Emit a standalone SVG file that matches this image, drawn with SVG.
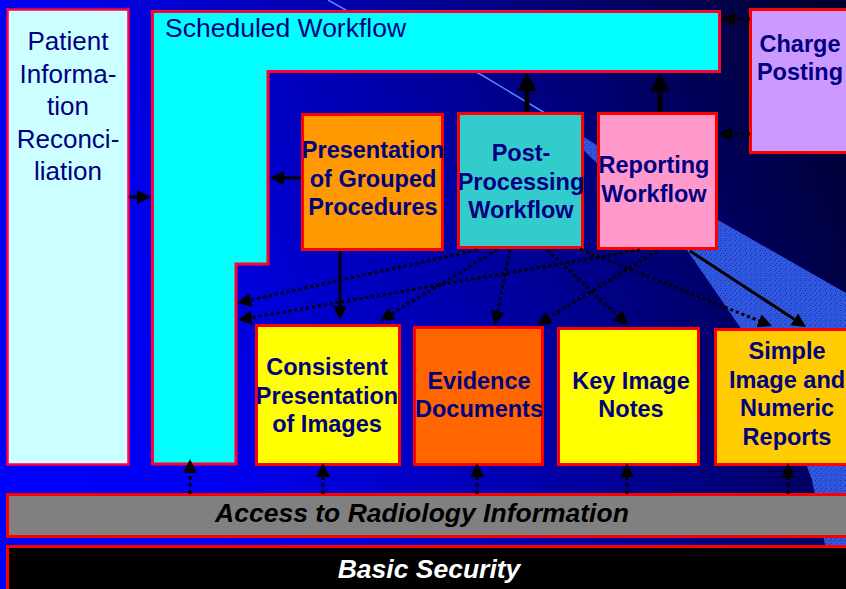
<svg xmlns="http://www.w3.org/2000/svg" width="846" height="589" viewBox="0 0 846 589">
<defs>
<linearGradient id="bg" gradientUnits="userSpaceOnUse" x1="0" y1="420" x2="846" y2="80">
<stop offset="0" stop-color="#0000FF"/>
<stop offset="0.2" stop-color="#0000F0"/>
<stop offset="0.5" stop-color="#0000B0"/>
<stop offset="0.75" stop-color="#000070"/>
<stop offset="1" stop-color="#000030"/>
</linearGradient>
<pattern id="tex" width="5" height="5" patternUnits="userSpaceOnUse">
<rect x="0" y="0" width="1" height="1" fill="#1530A0"/>
<rect x="3" y="1" width="1" height="1" fill="#1E40C0"/>
<rect x="1" y="3" width="1" height="1" fill="#1530A0"/>
<rect x="4" y="4" width="1" height="1" fill="#2448D0"/>
</pattern>
<marker id="hb" viewBox="0 -11 19 22" refX="0" refY="0" markerWidth="19" markerHeight="22" markerUnits="userSpaceOnUse" orient="auto"><path d="M0,-10 L18,0 L0,10 z" fill="#000"/></marker>
<marker id="hs" viewBox="0 -8 15 16" refX="0" refY="0" markerWidth="15" markerHeight="16" markerUnits="userSpaceOnUse" orient="auto"><path d="M0,-7 L14,0 L0,7 z" fill="#000"/></marker>
</defs>
<style>
.box{stroke:#FF0000;stroke-width:3}
.pk{stroke:#FF0050;stroke-width:2.5}
.t{font-family:"Liberation Sans",Arial,sans-serif;font-weight:bold;font-size:23.5px;fill:#000080;text-anchor:middle}
.r{font-family:"Liberation Sans",Arial,sans-serif;font-size:26px;fill:#000080}
.bi{font-family:"Liberation Sans",Arial,sans-serif;font-weight:bold;font-style:italic;font-size:26.5px;text-anchor:middle}
.sol{fill:none;stroke:#000;stroke-width:3}
.thk{fill:none;stroke:#000;stroke-width:5}
.dot{fill:none;stroke:#000;stroke-width:3;stroke-dasharray:3 3}
.vd{fill:none;stroke:#000;stroke-width:3;stroke-dasharray:4 3}
</style>
<rect width="846" height="589" fill="url(#bg)"/>
<path d="M328,0 L360,18 L480,74 L545,113" fill="none" stroke="#5585FF" stroke-width="1.5"/>
<g id="wedge">
<polygon points="540,110 718,220 846,293 846,589 830,589 825,545 812,480 790,420 740,327 687,250 548,116" fill="#3058E0"/>
<polygon points="540,110 718,220 846,293 846,589 830,589 825,545 812,480 790,420 740,327 687,250 548,116" fill="url(#tex)"/>
</g>

<g id="patient">
<rect class="pk" x="7.5" y="9.5" width="121" height="455" fill="#CCFFFF"/>
<text class="r" text-anchor="middle" x="68"><tspan x="68" y="50">Patient</tspan><tspan x="68" y="83">Informa-</tspan><tspan x="68" y="115">tion</tspan><tspan x="68" y="148">Reconci-</tspan><tspan x="68" y="180">liation</tspan></text>
</g>
<g id="scheduled">
<polygon points="152.5,11.5 719.5,11.5 719.5,71.5 268,71.5 268,264 236,264 236,464 152.5,464" fill="#00FFFF" stroke="#FF0033" stroke-width="3"/>
<text class="r" x="165" y="37" style="font-size:26.5px">Scheduled Workflow</text>
</g>
<g id="charge">
<rect class="box" x="750.5" y="9.5" width="110" height="143" fill="#CC99FF"/>
<text class="t"><tspan x="800" y="52">Charge</tspan><tspan x="800" y="80">Posting</tspan></text>
</g>
<g id="presentation">
<rect class="box" x="302.5" y="114.5" width="140" height="135" fill="#FF9900"/>
<text class="t"><tspan x="373" y="158">Presentation</tspan><tspan x="373" y="187">of Grouped</tspan><tspan x="373" y="215">Procedures</tspan></text>
</g>
<g id="postprocessing">
<rect class="box" x="458.5" y="113.5" width="124" height="134" fill="#33CCCC"/>
<text class="t"><tspan x="521" y="161">Post-</tspan><tspan x="521" y="189.5">Processing</tspan><tspan x="521" y="218">Workflow</tspan></text>
</g>
<g id="reporting">
<rect class="box" x="598.5" y="113.5" width="118" height="135" fill="#FF99CC"/>
<text class="t"><tspan x="654" y="173">Reporting</tspan><tspan x="654" y="202">Workflow</tspan></text>
</g>
<g id="consistent">
<rect class="box" x="256.5" y="325.5" width="143" height="139" fill="#FFFF00"/>
<text class="t"><tspan x="327" y="375">Consistent</tspan><tspan x="327" y="403.5">Presentation</tspan><tspan x="327" y="432">of Images</tspan></text>
</g>
<g id="evidence">
<rect class="box" x="414.5" y="327.5" width="128" height="137" fill="#FF6600"/>
<text class="t"><tspan x="479" y="388.5">Evidence</tspan><tspan x="479" y="417">Documents</tspan></text>
</g>
<g id="keyimage">
<rect class="box" x="558.5" y="328.5" width="140" height="136" fill="#FFFF00"/>
<text class="t"><tspan x="631" y="388.5">Key Image</tspan><tspan x="631" y="417">Notes</tspan></text>
</g>
<g id="simple">
<rect class="box" x="715.5" y="329.5" width="140" height="135" fill="#FFCC00"/>
<text class="t"><tspan x="787" y="359">Simple</tspan><tspan x="787" y="387.5">Image and</tspan><tspan x="787" y="416">Numeric</tspan><tspan x="787" y="444.5">Reports</tspan></text>
</g>
<g id="access">
<rect class="box" x="7.5" y="494.5" width="845" height="42" fill="#808080"/>
<text class="bi" x="422" y="522" fill="#000000">Access to Radiology Information</text>
</g>
<g id="security">
<rect class="box" x="7.5" y="546.5" width="845" height="50" fill="#000000"/>
<text class="bi" x="429" y="578" fill="#FFFFFF">Basic Security</text>
</g>

<g id="connectors">
<path class="sol" d="M129,197 L137,197" marker-end="url(#hs)"/>
<path class="sol" d="M301,178 L284,178" marker-end="url(#hs)"/>
<path class="thk" d="M527,112 L527,91" marker-end="url(#hb)"/>
<path class="thk" d="M660,112 L660,91" marker-end="url(#hb)"/>
<path class="dot" d="M750,19 L735,19" marker-end="url(#hs)"/>
<path class="dot" d="M750,134 L732,134" marker-end="url(#hs)"/>
<path class="sol" d="M340,251 L340,306" marker-end="url(#hs)"/>
<path class="sol" d="M690,251 L794.3,319.3" marker-end="url(#hs)"/>
<path class="dot" d="M477,250 L250.7,300" marker-end="url(#hs)"/>
<path class="dot" d="M640,250 L251.8,317.6" marker-end="url(#hs)"/>
<path class="dot" d="M497,250 L392,313.7" marker-end="url(#hs)"/>
<path class="dot" d="M510,250 L497.7,311.3" marker-end="url(#hs)"/>
<path class="dot" d="M547,250 L617.7,315.5" marker-end="url(#hs)"/>
<path class="dot" d="M580,249 L759,320.8" marker-end="url(#hs)"/>
<path class="dot" d="M657,251 L548.9,317.6" marker-end="url(#hs)"/>
<path class="vd" d="M190,494 L190,473" marker-end="url(#hs)"/>
<path class="vd" d="M323,494 L323,477" marker-end="url(#hs)"/>
<path class="vd" d="M477,494 L477,477" marker-end="url(#hs)"/>
<path class="vd" d="M627,494 L627,477" marker-end="url(#hs)"/>
<path class="vd" d="M788,494 L788,477" marker-end="url(#hs)"/>
</g>
</svg>
